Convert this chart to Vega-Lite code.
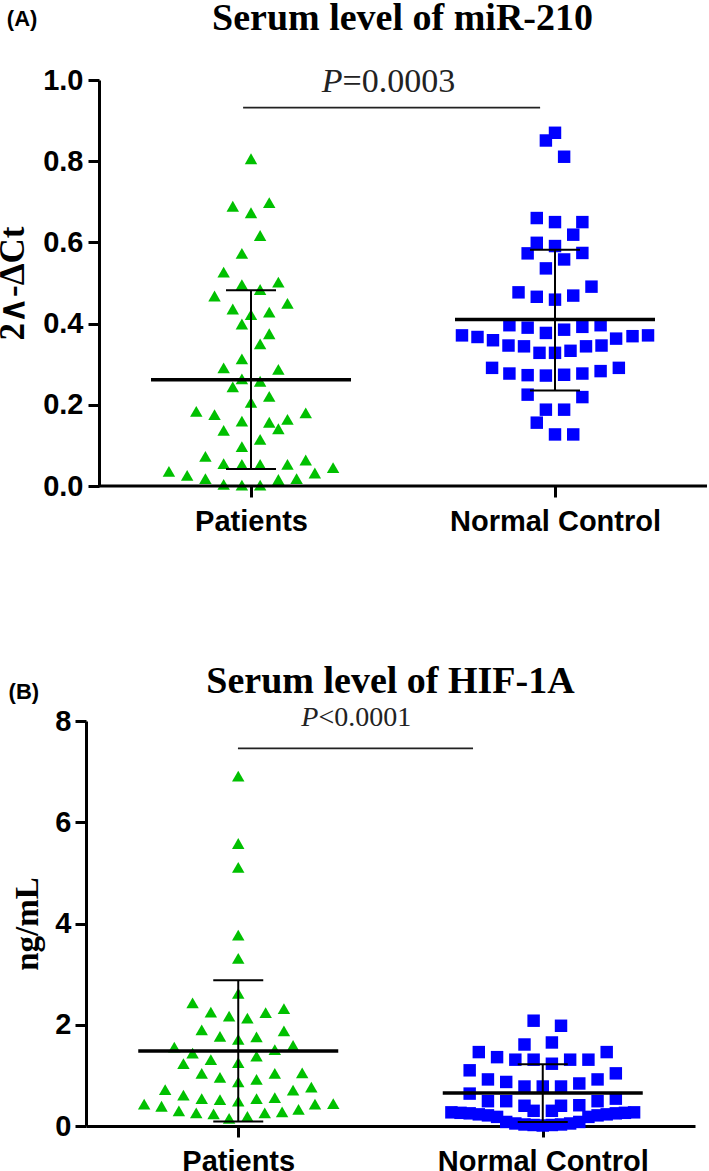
{
  "$schema": "https://vega.github.io/schema/vega-lite/v6.json",
  "background": "white",
  "padding": {"left": -5, "top": 0, "right": 0, "bottom": 0},
  "spacing": 127,
  "config": {
    "view": {"stroke": null},
    "axis": {
      "domainColor": "black", "domainWidth": 3, "tickColor": "black", "tickWidth": 3, "tickSize": 11,
      "labelFont": "Liberation Sans", "labelFontWeight": "bold", "labelFontSize": 29, "labelColor": "black", "labelLimit": 0,
      "titleFont": "Liberation Serif", "titleFontWeight": "bold", "titleFontSize": 33, "titleColor": "black",
      "grid": false
    }
  },
  "datasets": {
    "points": [
      {"panel":"A","group":"Patients","col":0,"value":0.806},{"panel":"A","group":"Patients","col":-2,"value":0.689},{"panel":"A","group":"Patients","col":0,"value":0.673},{"panel":"A","group":"Patients","col":2,"value":0.698},{"panel":"A","group":"Patients","col":1,"value":0.617},{"panel":"A","group":"Patients","col":-1,"value":0.573},{"panel":"A","group":"Patients","col":-3,"value":0.527},{"panel":"A","group":"Patients","col":-1,"value":0.496},{"panel":"A","group":"Patients","col":1,"value":0.484},{"panel":"A","group":"Patients","col":3,"value":0.502},
      {"panel":"A","group":"Patients","col":-4,"value":0.468},{"panel":"A","group":"Patients","col":4,"value":0.45},{"panel":"A","group":"Patients","col":-2,"value":0.436},{"panel":"A","group":"Patients","col":0,"value":0.422},{"panel":"A","group":"Patients","col":2,"value":0.428},{"panel":"A","group":"Patients","col":-1,"value":0.399},{"panel":"A","group":"Patients","col":2,"value":0.375},{"panel":"A","group":"Patients","col":1,"value":0.35},{"panel":"A","group":"Patients","col":-1,"value":0.313},{"panel":"A","group":"Patients","col":-3,"value":0.291},
      {"panel":"A","group":"Patients","col":3,"value":0.287},{"panel":"A","group":"Patients","col":-1,"value":0.264},{"panel":"A","group":"Patients","col":1,"value":0.258},{"panel":"A","group":"Patients","col":-2,"value":0.244},{"panel":"A","group":"Patients","col":2,"value":0.221},{"panel":"A","group":"Patients","col":0,"value":0.206},{"panel":"A","group":"Patients","col":-6,"value":0.184},{"panel":"A","group":"Patients","col":-4,"value":0.176},{"panel":"A","group":"Patients","col":-1,"value":0.16},{"panel":"A","group":"Patients","col":2,"value":0.157},
      {"panel":"A","group":"Patients","col":4,"value":0.164},{"panel":"A","group":"Patients","col":6,"value":0.18},{"panel":"A","group":"Patients","col":-3,"value":0.137},{"panel":"A","group":"Patients","col":3,"value":0.141},{"panel":"A","group":"Patients","col":1,"value":0.115},{"panel":"A","group":"Patients","col":-1,"value":0.097},{"panel":"A","group":"Patients","col":-5,"value":0.073},{"panel":"A","group":"Patients","col":-3,"value":0.055},{"panel":"A","group":"Patients","col":-1,"value":0.053},{"panel":"A","group":"Patients","col":1,"value":0.053},
      {"panel":"A","group":"Patients","col":4,"value":0.053},{"panel":"A","group":"Patients","col":6,"value":0.064},{"panel":"A","group":"Patients","col":9,"value":0.045},{"panel":"A","group":"Patients","col":-9,"value":0.036},{"panel":"A","group":"Patients","col":7,"value":0.032},{"panel":"A","group":"Patients","col":-7,"value":0.026},{"panel":"A","group":"Patients","col":-5,"value":0.018},{"panel":"A","group":"Patients","col":3,"value":0.016},{"panel":"A","group":"Patients","col":5,"value":0.018},{"panel":"A","group":"Patients","col":-3,"value":0.004},
      {"panel":"A","group":"Patients","col":-1,"value":0.002},{"panel":"A","group":"Patients","col":1,"value":0.002},

      {"panel":"A","group":"Normal Control","col":0,"value":0.87},{"panel":"A","group":"Normal Control","col":-1,"value":0.851},{"panel":"A","group":"Normal Control","col":1,"value":0.811},{"panel":"A","group":"Normal Control","col":-2,"value":0.66},{"panel":"A","group":"Normal Control","col":0,"value":0.65},{"panel":"A","group":"Normal Control","col":3,"value":0.65},{"panel":"A","group":"Normal Control","col":2,"value":0.619},{"panel":"A","group":"Normal Control","col":-2,"value":0.599},{"panel":"A","group":"Normal Control","col":0,"value":0.591},{"panel":"A","group":"Normal Control","col":-3,"value":0.573},
      {"panel":"A","group":"Normal Control","col":3,"value":0.574},{"panel":"A","group":"Normal Control","col":1,"value":0.558},{"panel":"A","group":"Normal Control","col":-1,"value":0.536},{"panel":"A","group":"Normal Control","col":4,"value":0.491},{"panel":"A","group":"Normal Control","col":-4,"value":0.477},{"panel":"A","group":"Normal Control","col":-2,"value":0.466},{"panel":"A","group":"Normal Control","col":0,"value":0.459},{"panel":"A","group":"Normal Control","col":2,"value":0.469},
      {"panel":"A","group":"Normal Control","col":-5,"value":0.396},{"panel":"A","group":"Normal Control","col":-3,"value":0.39},{"panel":"A","group":"Normal Control","col":-1,"value":0.377},{"panel":"A","group":"Normal Control","col":1,"value":0.385},{"panel":"A","group":"Normal Control","col":3,"value":0.392},{"panel":"A","group":"Normal Control","col":5,"value":0.396},
      {"panel":"A","group":"Normal Control","col":-10.2,"value":0.371},{"panel":"A","group":"Normal Control","col":-8.5,"value":0.367},{"panel":"A","group":"Normal Control","col":-6.8,"value":0.359},{"panel":"A","group":"Normal Control","col":6.7,"value":0.363},{"panel":"A","group":"Normal Control","col":8.5,"value":0.369},{"panel":"A","group":"Normal Control","col":10.2,"value":0.371},
      {"panel":"A","group":"Normal Control","col":-5.1,"value":0.346},{"panel":"A","group":"Normal Control","col":-3.4,"value":0.344},{"panel":"A","group":"Normal Control","col":-1.7,"value":0.328},{"panel":"A","group":"Normal Control","col":0,"value":0.328},{"panel":"A","group":"Normal Control","col":1.7,"value":0.333},{"panel":"A","group":"Normal Control","col":3.4,"value":0.344},{"panel":"A","group":"Normal Control","col":5.1,"value":0.346},
      {"panel":"A","group":"Normal Control","col":-6.9,"value":0.291},{"panel":"A","group":"Normal Control","col":-5,"value":0.277},{"panel":"A","group":"Normal Control","col":-3,"value":0.273},{"panel":"A","group":"Normal Control","col":-1,"value":0.272},{"panel":"A","group":"Normal Control","col":1,"value":0.274},{"panel":"A","group":"Normal Control","col":3,"value":0.277},{"panel":"A","group":"Normal Control","col":5,"value":0.283},{"panel":"A","group":"Normal Control","col":7,"value":0.291},
      {"panel":"A","group":"Normal Control","col":-3,"value":0.225},{"panel":"A","group":"Normal Control","col":3,"value":0.219},{"panel":"A","group":"Normal Control","col":-1,"value":0.188},{"panel":"A","group":"Normal Control","col":1,"value":0.188},{"panel":"A","group":"Normal Control","col":-2,"value":0.156},{"panel":"A","group":"Normal Control","col":0,"value":0.127},{"panel":"A","group":"Normal Control","col":2,"value":0.127},

      {"panel":"B","group":"Patients","col":0,"value":6.91},{"panel":"B","group":"Patients","col":0,"value":5.58},{"panel":"B","group":"Patients","col":0,"value":5.11},{"panel":"B","group":"Patients","col":0,"value":3.77},{"panel":"B","group":"Patients","col":0,"value":3.31},{"panel":"B","group":"Patients","col":0,"value":2.62},
      {"panel":"B","group":"Patients","col":-5,"value":2.43},{"panel":"B","group":"Patients","col":5,"value":2.32},{"panel":"B","group":"Patients","col":-3,"value":2.25},{"panel":"B","group":"Patients","col":3,"value":2.24},{"panel":"B","group":"Patients","col":-1,"value":2.17},{"panel":"B","group":"Patients","col":1,"value":2.13},
      {"panel":"B","group":"Patients","col":-4,"value":1.9},{"panel":"B","group":"Patients","col":5,"value":1.88},{"panel":"B","group":"Patients","col":-2,"value":1.77},{"panel":"B","group":"Patients","col":2,"value":1.76},{"panel":"B","group":"Patients","col":0,"value":1.71},
      {"panel":"B","group":"Patients","col":-7,"value":1.56},{"panel":"B","group":"Patients","col":6,"value":1.59},{"panel":"B","group":"Patients","col":4,"value":1.51},{"panel":"B","group":"Patients","col":-5,"value":1.44},{"panel":"B","group":"Patients","col":-3,"value":1.31},{"panel":"B","group":"Patients","col":2,"value":1.38},
      {"panel":"B","group":"Patients","col":-6,"value":1.23},{"panel":"B","group":"Patients","col":0,"value":1.25},
      {"panel":"B","group":"Patients","col":-4,"value":1.04},{"panel":"B","group":"Patients","col":-2,"value":0.96},{"panel":"B","group":"Patients","col":4,"value":1.04},{"panel":"B","group":"Patients","col":7,"value":1.05},{"panel":"B","group":"Patients","col":0,"value":0.87},{"panel":"B","group":"Patients","col":2,"value":0.92},
      {"panel":"B","group":"Patients","col":-8,"value":0.72},{"panel":"B","group":"Patients","col":6,"value":0.71},{"panel":"B","group":"Patients","col":8,"value":0.77},
      {"panel":"B","group":"Patients","col":-6,"value":0.61},{"panel":"B","group":"Patients","col":-4,"value":0.54},{"panel":"B","group":"Patients","col":-2,"value":0.52},{"panel":"B","group":"Patients","col":0,"value":0.49},{"panel":"B","group":"Patients","col":2,"value":0.54},{"panel":"B","group":"Patients","col":4,"value":0.56},
      {"panel":"B","group":"Patients","col":-10.3,"value":0.43},{"panel":"B","group":"Patients","col":-8.4,"value":0.39},{"panel":"B","group":"Patients","col":8.4,"value":0.43},{"panel":"B","group":"Patients","col":10.4,"value":0.44},
      {"panel":"B","group":"Patients","col":-6.5,"value":0.3},{"panel":"B","group":"Patients","col":-4.6,"value":0.26},{"panel":"B","group":"Patients","col":-2.7,"value":0.24},{"panel":"B","group":"Patients","col":2.9,"value":0.26},{"panel":"B","group":"Patients","col":4.8,"value":0.28},{"panel":"B","group":"Patients","col":6.6,"value":0.33},
      {"panel":"B","group":"Patients","col":-1,"value":0.15},{"panel":"B","group":"Patients","col":1,"value":0.19},

      {"panel":"B","group":"Normal Control","col":-1,"value":2.08},{"panel":"B","group":"Normal Control","col":2,"value":1.98},{"panel":"B","group":"Normal Control","col":-2,"value":1.61},{"panel":"B","group":"Normal Control","col":1,"value":1.65},
      {"panel":"B","group":"Normal Control","col":-7,"value":1.46},{"panel":"B","group":"Normal Control","col":-5,"value":1.36},{"panel":"B","group":"Normal Control","col":-3,"value":1.31},{"panel":"B","group":"Normal Control","col":-1,"value":1.31},{"panel":"B","group":"Normal Control","col":1,"value":1.23},{"panel":"B","group":"Normal Control","col":3,"value":1.31},{"panel":"B","group":"Normal Control","col":5,"value":1.31},{"panel":"B","group":"Normal Control","col":7,"value":1.46},
      {"panel":"B","group":"Normal Control","col":-8,"value":1.1},{"panel":"B","group":"Normal Control","col":8,"value":1.04},
      {"panel":"B","group":"Normal Control","col":-6,"value":0.92},{"panel":"B","group":"Normal Control","col":-4,"value":0.87},{"panel":"B","group":"Normal Control","col":6,"value":0.92},
      {"panel":"B","group":"Normal Control","col":-2,"value":0.78},{"panel":"B","group":"Normal Control","col":0,"value":0.78},{"panel":"B","group":"Normal Control","col":2,"value":0.78},{"panel":"B","group":"Normal Control","col":4,"value":0.84},
      {"panel":"B","group":"Normal Control","col":-8,"value":0.64},{"panel":"B","group":"Normal Control","col":-6,"value":0.49},{"panel":"B","group":"Normal Control","col":-4,"value":0.49},{"panel":"B","group":"Normal Control","col":6,"value":0.49},{"panel":"B","group":"Normal Control","col":8,"value":0.54},
      {"panel":"B","group":"Normal Control","col":-2,"value":0.4},{"panel":"B","group":"Normal Control","col":-1,"value":0.3},{"panel":"B","group":"Normal Control","col":1,"value":0.3},{"panel":"B","group":"Normal Control","col":2,"value":0.4},{"panel":"B","group":"Normal Control","col":4,"value":0.41},
      {"panel":"B","group":"Normal Control","col":-10,"value":0.27},{"panel":"B","group":"Normal Control","col":-9,"value":0.26},{"panel":"B","group":"Normal Control","col":-8,"value":0.25},{"panel":"B","group":"Normal Control","col":-7,"value":0.23},{"panel":"B","group":"Normal Control","col":-6,"value":0.21},{"panel":"B","group":"Normal Control","col":-5,"value":0.18},{"panel":"B","group":"Normal Control","col":-4,"value":0.08},{"panel":"B","group":"Normal Control","col":-3,"value":0.05},{"panel":"B","group":"Normal Control","col":-2,"value":0.03},{"panel":"B","group":"Normal Control","col":-1,"value":0.02},{"panel":"B","group":"Normal Control","col":0,"value":0.01},
      {"panel":"B","group":"Normal Control","col":1,"value":0.02},{"panel":"B","group":"Normal Control","col":2,"value":0.03},{"panel":"B","group":"Normal Control","col":3,"value":0.05},{"panel":"B","group":"Normal Control","col":4,"value":0.08},{"panel":"B","group":"Normal Control","col":5,"value":0.18},{"panel":"B","group":"Normal Control","col":6,"value":0.21},{"panel":"B","group":"Normal Control","col":7,"value":0.23},{"panel":"B","group":"Normal Control","col":8,"value":0.25},{"panel":"B","group":"Normal Control","col":9,"value":0.26},{"panel":"B","group":"Normal Control","col":10,"value":0.27}
    ],
    "stats": [
      {"panel":"A","group":"Patients","mean":0.262,"lo":0.042,"hi":0.482},
      {"panel":"A","group":"Normal Control","mean":0.41,"lo":0.235,"hi":0.582},
      {"panel":"B","group":"Patients","mean":1.48,"lo":0.09,"hi":2.88},
      {"panel":"B","group":"Normal Control","mean":0.65,"lo":0.08,"hi":1.22}
    ],
    "brackets": [
      {"panel":"A","x1":0.474,"x2":1.451,"y":0.932,"sym":"P","rest":"=0.0003"},
      {"panel":"B","x1":0.499,"x2":1.271,"y":7.46,"sym":"P","rest":"<0.0001"}
    ]
  },
  "vconcat": [
    {
      "width": 621,
      "height": 406,
      "title": {"text": "Serum level of miR-210", "font": "Liberation Serif", "fontSize": 38, "fontWeight": "bold", "color": "black", "anchor": "middle", "frame": "group", "dx": 6, "offset": -30.5},
      "layer": [
        {
          "data": {"name": "points"},
          "transform": [{"filter": "datum.panel == 'A'"}, {"calculate": "(datum.group == 'Patients' ? 0.5 : 1.5) + datum.col * 0.03", "as": "xpos"}],
          "mark": {"type": "point", "filled": true, "opacity": 1, "size": 155, "strokeWidth": 0},
          "encoding": {
            "x": {"field": "xpos", "type": "quantitative", "scale": {"domain": [-0.0428, 2], "nice": false, "zero": false},
                  "axis": {"values": [0.5, 1.5], "labelExpr": "datum.value < 1 ? 'Patients' : 'Normal Control'", "labelPadding": 10, "title": null, "labelFlush": false, "labelOverlap": false, "domain": false}},
            "y": {"field": "value", "type": "quantitative", "scale": {"domain": [0, 1], "nice": false},
                  "axis": {"values": [0, 0.2, 0.4, 0.6, 0.8, 1.0], "format": ".1f", "labelPadding": 5, "titlePadding": 12, "titleFontSize": 35, "offset": -13, "title": "2∧-ΔCt"}},
            "shape": {"field": "group", "scale": {"domain": ["Patients", "Normal Control"], "range": ["triangle-up", "square"]}, "legend": null},
            "color": {"field": "group", "scale": {"domain": ["Patients", "Normal Control"], "range": ["#00C000", "#0000FF"]}, "legend": null}
          }
        },
        {
          "data": {"values": [{}]},
          "mark": {"type": "rule", "color": "black", "strokeWidth": 3},
          "encoding": {
            "x": {"datum": 0, "type": "quantitative"},
            "x2": {"datum": 2},
            "y": {"datum": 0, "type": "quantitative"}
          }
        },
        {
          "data": {"name": "stats"},
          "transform": [{"filter": "datum.panel == 'A'"}, {"calculate": "datum.group == 'Patients' ? 0.5 : 1.5", "as": "gx"}],
          "mark": {"type": "rule", "color": "black", "strokeWidth": 2},
          "encoding": {
            "x": {"field": "gx", "type": "quantitative", "title": null},
            "y": {"field": "lo", "type": "quantitative", "title": "2∧-ΔCt"},
            "y2": {"field": "hi"}
          }
        },
        {
          "data": {"name": "stats"},
          "transform": [{"filter": "datum.panel == 'A'"}, {"calculate": "datum.group == 'Patients' ? 0.5 : 1.5", "as": "gx"}],
          "mark": {"type": "tick", "color": "black", "orient": "horizontal", "size": 200, "thickness": 3.5, "opacity": 1},
          "encoding": {
            "x": {"field": "gx", "type": "quantitative", "title": null},
            "y": {"field": "mean", "type": "quantitative", "title": "2∧-ΔCt"}
          }
        },
        {
          "data": {"name": "stats"},
          "transform": [{"filter": "datum.panel == 'A'"}, {"calculate": "datum.group == 'Patients' ? 0.5 : 1.5", "as": "gx"}, {"fold": ["lo", "hi"], "as": ["end", "bound"]}],
          "mark": {"type": "tick", "color": "black", "orient": "horizontal", "size": 50, "thickness": 2, "opacity": 1},
          "encoding": {
            "x": {"field": "gx", "type": "quantitative", "title": null},
            "y": {"field": "bound", "type": "quantitative", "title": "2∧-ΔCt"}
          }
        },
        {
          "data": {"name": "brackets"},
          "transform": [{"filter": "datum.panel == 'A'"}],
          "mark": {"type": "rule", "color": "#222222", "strokeWidth": 1.8},
          "encoding": {
            "x": {"field": "x1", "type": "quantitative", "title": null},
            "x2": {"field": "x2"},
            "y": {"field": "y", "type": "quantitative", "title": "2∧-ΔCt"}
          }
        },
        {
          "data": {"name": "brackets"},
          "transform": [{"filter": "datum.panel == 'A'"}, {"calculate": "(datum.x1 + datum.x2) / 2", "as": "mid"}],
          "mark": {"type": "text", "font": "Liberation Serif", "fontSize": 34, "fontStyle": "italic", "align": "right", "baseline": "middle", "dx": -49, "dy": -26, "color": "#222222"},
          "encoding": {
            "x": {"field": "mid", "type": "quantitative", "title": null},
            "y": {"field": "y", "type": "quantitative", "title": "2∧-ΔCt"},
            "text": {"field": "sym"}
          }
        },
        {
          "data": {"name": "brackets"},
          "transform": [{"filter": "datum.panel == 'A'"}, {"calculate": "(datum.x1 + datum.x2) / 2", "as": "mid"}],
          "mark": {"type": "text", "font": "Liberation Serif", "fontSize": 34, "align": "left", "baseline": "middle", "dx": -49, "dy": -26, "color": "#222222"},
          "encoding": {
            "x": {"field": "mid", "type": "quantitative", "title": null},
            "y": {"field": "y", "type": "quantitative", "title": "2∧-ΔCt"},
            "text": {"field": "rest"}
          }
        },
        {
          "data": {"values": [{}]},
          "mark": {"type": "text", "font": "Liberation Sans", "fontWeight": "bold", "fontSize": 22, "align": "center", "baseline": "middle", "color": "black"},
          "encoding": {
            "x": {"datum": -0.253, "type": "quantitative"},
            "y": {"datum": 1.151, "type": "quantitative"},
            "text": {"value": "(A)"}
          }
        }
      ]
    },
    {
      "width": 609,
      "height": 405,
      "title": {"text": "Serum level of HIF-1A", "font": "Liberation Serif", "fontSize": 38, "fontWeight": "bold", "color": "black", "anchor": "middle", "frame": "group", "offset": -20},
      "layer": [
        {
          "data": {"name": "points"},
          "transform": [{"filter": "datum.panel == 'B'"}, {"calculate": "(datum.group == 'Patients' ? 0.5 : 1.5) + datum.col * 0.03", "as": "xpos"}],
          "mark": {"type": "point", "filled": true, "opacity": 1, "size": 155, "strokeWidth": 0},
          "encoding": {
            "x": {"field": "xpos", "type": "quantitative", "scale": {"domain": [0, 2], "nice": false, "zero": false},
                  "axis": {"values": [0.5, 1.5], "labelExpr": "datum.value < 1 ? 'Patients' : 'Normal Control'", "labelPadding": 10, "title": null, "labelFlush": false, "labelOverlap": false}},
            "y": {"field": "value", "type": "quantitative", "scale": {"domain": [0, 8], "nice": false},
                  "axis": {"values": [0, 2, 4, 6, 8], "labelPadding": 4, "titlePadding": 10, "title": "ng/mL"}},
            "shape": {"field": "group", "scale": {"domain": ["Patients", "Normal Control"], "range": ["triangle-up", "square"]}, "legend": null},
            "color": {"field": "group", "scale": {"domain": ["Patients", "Normal Control"], "range": ["#00C000", "#0000FF"]}, "legend": null}
          }
        },
        {
          "data": {"name": "stats"},
          "transform": [{"filter": "datum.panel == 'B'"}, {"calculate": "datum.group == 'Patients' ? 0.5 : 1.5", "as": "gx"}],
          "mark": {"type": "rule", "color": "black", "strokeWidth": 2},
          "encoding": {
            "x": {"field": "gx", "type": "quantitative", "title": null},
            "y": {"field": "lo", "type": "quantitative", "title": "ng/mL"},
            "y2": {"field": "hi"}
          }
        },
        {
          "data": {"name": "stats"},
          "transform": [{"filter": "datum.panel == 'B'"}, {"calculate": "datum.group == 'Patients' ? 0.5 : 1.5", "as": "gx"}],
          "mark": {"type": "tick", "color": "black", "orient": "horizontal", "size": 200, "thickness": 3.5, "opacity": 1},
          "encoding": {
            "x": {"field": "gx", "type": "quantitative", "title": null},
            "y": {"field": "mean", "type": "quantitative", "title": "ng/mL"}
          }
        },
        {
          "data": {"name": "stats"},
          "transform": [{"filter": "datum.panel == 'B'"}, {"calculate": "datum.group == 'Patients' ? 0.5 : 1.5", "as": "gx"}, {"fold": ["lo", "hi"], "as": ["end", "bound"]}],
          "mark": {"type": "tick", "color": "black", "orient": "horizontal", "size": 50, "thickness": 2, "opacity": 1},
          "encoding": {
            "x": {"field": "gx", "type": "quantitative", "title": null},
            "y": {"field": "bound", "type": "quantitative", "title": "ng/mL"}
          }
        },
        {
          "data": {"name": "brackets"},
          "transform": [{"filter": "datum.panel == 'B'"}],
          "mark": {"type": "rule", "color": "#222222", "strokeWidth": 1.8},
          "encoding": {
            "x": {"field": "x1", "type": "quantitative", "title": null},
            "x2": {"field": "x2"},
            "y": {"field": "y", "type": "quantitative", "title": "ng/mL"}
          }
        },
        {
          "data": {"name": "brackets"},
          "transform": [{"filter": "datum.panel == 'B'"}, {"calculate": "(datum.x1 + datum.x2) / 2", "as": "mid"}],
          "mark": {"type": "text", "font": "Liberation Serif", "fontSize": 28, "fontStyle": "italic", "align": "right", "baseline": "middle", "dx": -37, "dy": -30, "color": "#222222"},
          "encoding": {
            "x": {"field": "mid", "type": "quantitative", "title": null},
            "y": {"field": "y", "type": "quantitative", "title": "ng/mL"},
            "text": {"field": "sym"}
          }
        },
        {
          "data": {"name": "brackets"},
          "transform": [{"filter": "datum.panel == 'B'"}, {"calculate": "(datum.x1 + datum.x2) / 2", "as": "mid"}],
          "mark": {"type": "text", "font": "Liberation Serif", "fontSize": 28, "align": "left", "baseline": "middle", "dx": -37, "dy": -30, "color": "#222222"},
          "encoding": {
            "x": {"field": "mid", "type": "quantitative", "title": null},
            "y": {"field": "y", "type": "quantitative", "title": "ng/mL"},
            "text": {"field": "rest"}
          }
        },
        {
          "data": {"values": [{}]},
          "mark": {"type": "text", "font": "Liberation Sans", "fontWeight": "bold", "fontSize": 22, "align": "center", "baseline": "middle", "color": "black"},
          "encoding": {
            "x": {"datum": -0.204, "type": "quantitative"},
            "y": {"datum": 8.57, "type": "quantitative"},
            "text": {"value": "(B)"}
          }
        }
      ]
    }
  ]
}
